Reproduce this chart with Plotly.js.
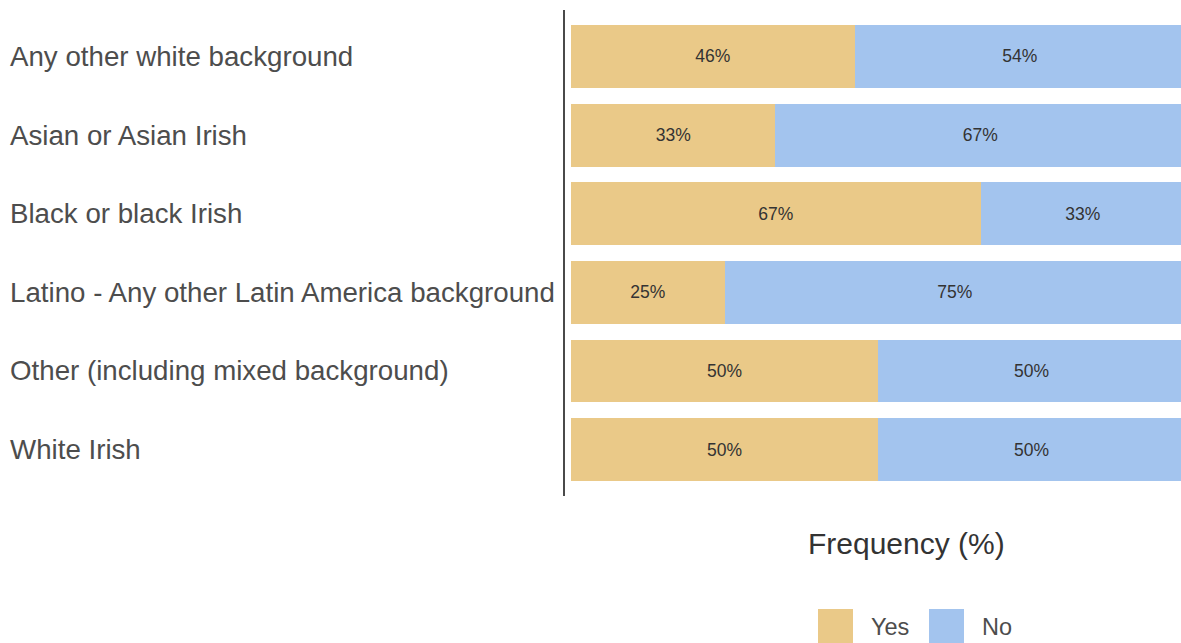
<!DOCTYPE html>
<html>
<head>
<meta charset="utf-8">
<script src="https://cdn.plot.ly/plotly-3.0.1.min.js"></script>
<style>
  html, body { margin: 0; padding: 0; background: #ffffff; }
  #chart { width: 1181px; height: 643px; }
</style>
</head>
<body>
<div id="chart"></div>
<script>
// ---- data ----
const categories = [
  "Any other white background",
  "Asian or Asian Irish",
  "Black or black Irish",
  "Latino - Any other Latin America background",
  "Other (including mixed background)",
  "White Irish"
];
const yesValues = [46.2, 33.3, 66.7, 25, 50, 50];
const noValues  = [53.8, 66.7, 33.3, 75, 50, 50];
const seriesNames = ["Yes", "No"];
const seriesColors = ["#EAC988", "#A3C4EE"];
const axisTitle = "Frequency (%)";

// ---- layout geometry (pixels) ----
const W = 1181, H = 643;
const plotL = 565, plotR = 1181, plotT = 10, plotB = 496;
const pw = plotR - plotL, ph = plotB - plotT;
const px2paperX = p => (p - plotL) / pw;
const px2paperY = p => (plotB - p) / ph;

const fmt = v => Math.round(v) + "%";
const FONT = "Liberation Sans, Arial, sans-serif";

const traces = [yesValues, noValues].map((vals, i) => ({
  type: "bar",
  orientation: "h",
  name: seriesNames[i],
  y: categories,
  x: vals,
  marker: { color: seriesColors[i], line: { width: 0 } },
  text: vals.map(fmt),
  textposition: "inside",
  insidetextanchor: "middle",
  textfont: { family: FONT, size: 17.5, color: "#333333" },
  constraintext: "none",
  hoverinfo: "skip",
  showlegend: false
}));

const annotations = [];
// category labels, left aligned
categories.forEach(c => {
  annotations.push({
    xref: "paper", yref: "y",
    x: px2paperX(8), y: c,
    text: c, showarrow: false,
    xanchor: "left", yanchor: "middle",
    font: { family: FONT, size: 27.7, color: "#4d4d4d" }
  });
});
// axis title
annotations.push({
  xref: "paper", yref: "paper",
  x: px2paperX(906), y: px2paperY(543),
  text: axisTitle, showarrow: false,
  xanchor: "center", yanchor: "middle",
  font: { family: FONT, size: 30, color: "#333333" }
});

// custom legend
const shapes = [];
const legendItems = [
  { sx: 818, tx: 869 },
  { sx: 929, tx: 980 }
];
legendItems.forEach((it, i) => {
  shapes.push({
    type: "rect", xref: "paper", yref: "paper",
    x0: px2paperX(it.sx), x1: px2paperX(it.sx + 35),
    y0: px2paperY(644), y1: px2paperY(609),
    fillcolor: seriesColors[i], line: { width: 0 }
  });
  annotations.push({
    xref: "paper", yref: "paper",
    x: px2paperX(it.tx), y: px2paperY(627),
    text: seriesNames[i], showarrow: false,
    xanchor: "left", yanchor: "middle",
    font: { family: FONT, size: 23.5, color: "#4d4d4d" }
  });
});

const layout = {
  width: W, height: H,
  margin: { l: plotL, r: W - plotR, t: plotT, b: H - plotB, pad: 0 },
  paper_bgcolor: "#ffffff",
  plot_bgcolor: "#ffffff",
  barmode: "stack",
  bargap: 0.2,
  showlegend: false,
  xaxis: {
    range: [-0.98, 99.35],
    showgrid: false, zeroline: false, showline: false,
    showticklabels: false, ticks: "", fixedrange: true
  },
  yaxis: {
    type: "category",
    range: [5.59, -0.59],
    showgrid: false, zeroline: false,
    showline: true, linecolor: "#4a4a4a", linewidth: 2,
    showticklabels: false, ticks: "", fixedrange: true
  },
  annotations: annotations,
  shapes: shapes
};

Plotly.newPlot("chart", traces, layout, { displayModeBar: false, staticPlot: true });
</script>
</body>
</html>
